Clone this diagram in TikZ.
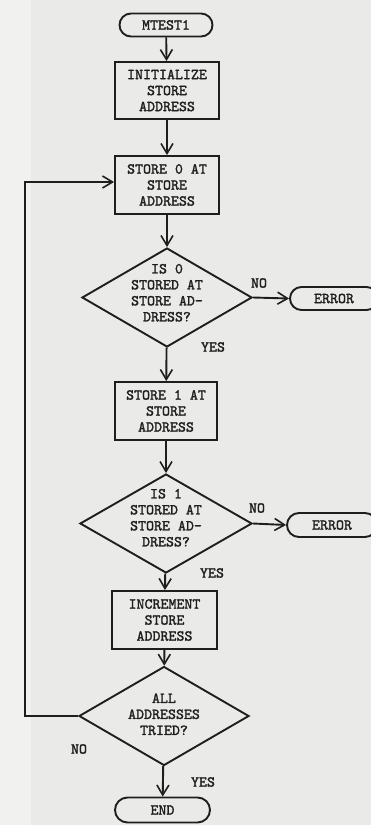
\documentclass[tikz,border=0pt]{standalone}
\usepackage{fontspec}
\newfontfamily\twfont[FakeBold=1.6]{lmmono10-regular.otf}
\usetikzlibrary{shapes.geometric,shapes.misc,arrows.meta}
\definecolor{paper}{RGB}{234,234,232}
\definecolor{paperlight}{RGB}{241,241,240}
\definecolor{ink}{RGB}{30,30,30}
\newcommand{\dtext}[2]{\makebox[0pt]{\raisebox{#1}{\smash{\parbox{120pt}{\centering #2}}}}}
\begin{document}
\begin{tikzpicture}[x=1pt,y=-1pt,
  every node/.style={font=\fontsize{15.2}{16}\selectfont\twfont, text=ink},
  line/.style={draw=ink, line width=1.9pt},
  flow/.style={line, -{Straight Barb[length=10pt,width=12pt,line width=1.6pt]}},
  procbox/.style={draw=ink, line width=1.9pt, rectangle, inner sep=0pt, align=center, minimum width=104pt, minimum height=57pt},
  term/.style={draw=ink, line width=1.9pt, rounded rectangle, inner sep=0pt, minimum height=23pt},
  decide/.style={draw=ink, line width=1.9pt, diamond, inner sep=0pt, minimum width=170pt, minimum height=99pt},
  lbl/.style={inner sep=0pt}]
\fill[paper] (0,0) rectangle (371,825);
\fill[paperlight] (0,0) rectangle (31,825);
\useasboundingbox (0,0) rectangle (371,825);

\node[term, minimum width=93pt] (start) at (166,25) {MTEST1};
\node[procbox] (init) at (167,90.5) {INITIALIZE\\STORE\\ADDRESS};
\node[procbox, minimum height=58pt] (st0) at (167,185) {STORE 0 AT\\STORE\\ADDRESS};
\node[decide] (d1) at (167,297.5) {\dtext{2.25pt}{IS 0\\STORED AT\\STORE AD-\\DRESS?}};
\node[term, minimum width=88pt] (err1) at (334,298.5) {ERROR};
\node[procbox, minimum width=102pt, minimum height=58pt] (st1) at (166,411) {STORE 1 AT\\STORE\\ADDRESS};
\node[decide, minimum width=172pt] (d2) at (166,523.5) {\dtext{4.25pt}{IS 1\\STORED AT\\STORE AD-\\DRESS?}};
\node[term, minimum width=90pt, minimum height=24pt] (err2) at (332,525) {ERROR};
\node[procbox, minimum width=105pt, minimum height=58pt] (inc) at (164.5,620) {INCREMENT\\STORE\\ADDRESS};
\node[decide] (d3) at (164,716) {\dtext{-3.75pt}{ALL\\ADDRESSES\\TRIED?}};
\node[term, minimum width=95pt, minimum height=25pt] (fin) at (162.5,810) {END};

\node[lbl] (no1) at (259,283) {NO};
\node[lbl] (yes1) at (213,347) {YES};
\node[lbl] (no2) at (257,508) {NO};
\node[lbl] (yes2) at (212,573) {YES};
\node[lbl] (no3) at (79,749) {NO};
\node[lbl] (yes3) at (203,782) {YES};

\coordinate (lc) at (25,0);
\draw[flow] (start) -- (init);
\draw[flow] (init) -- (st0);
\draw[flow] (st0) -- (d1);
\draw[flow] (d1.east) -- (err1.west);
\draw[flow] (d1) -- (st1);
\draw[flow] (st1) -- (d2);
\draw[flow] (d2.east) -- (err2.west);
\draw[flow] (d2) -- (inc);
\draw[flow] (inc) -- (d3);
\draw[flow] (d3) -- (fin);
\draw[flow] (d3.west) -- (d3.west -| lc) |- ([yshift=3pt]st0.west);
\end{tikzpicture}
\end{document}
